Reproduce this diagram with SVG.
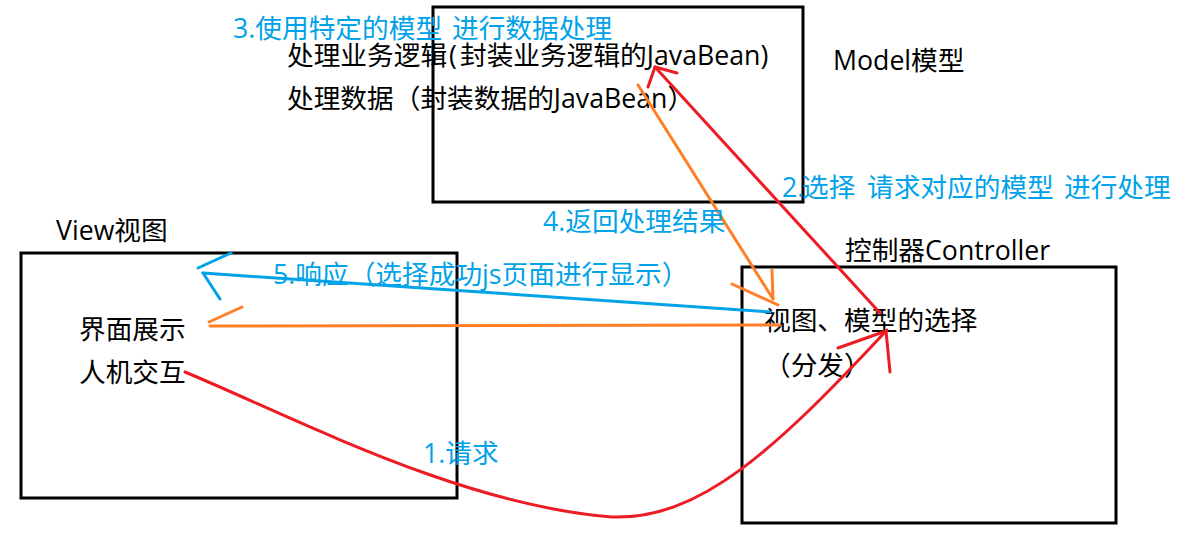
<svg xmlns="http://www.w3.org/2000/svg" width="1190" height="544" viewBox="0 0 1190 544">
<style>
.box{fill:none;stroke:#000;stroke-width:3}
.t{font-family:'Open Sans','Noto Sans CJK SC',sans-serif;font-size:26.7px;fill:#000}
.lb{font-family:'Open Sans','Noto Sans CJK SC',sans-serif;font-size:26.7px;fill:#00A2E8}
.ln{fill:none;stroke-width:3;stroke-linecap:round;stroke-linejoin:round}
.red{stroke:#ED1C24}
.org{stroke:#FF7F27}
.blu{stroke:#00A2E8}
</style>
<rect width="1190" height="544" fill="#fff"/>
<g id="view">
<rect class="box" x="21" y="253" width="436" height="245"/>
<text class="t" x="56" y="240">View视图</text>
<text class="t" x="79" y="339">界面展示</text>
<text class="t" x="79" y="382">人机交互</text>
</g>
<g id="model">
<rect class="box" x="433" y="7" width="370" height="195"/>
<text class="t" x="833" y="70">Model模型</text>
<text class="t" y="65"><tspan x="287">处理业务逻辑</tspan><tspan x="449">(</tspan><tspan x="460">封装业务逻辑的JavaBean)</tspan></text>
<text class="t" x="287" y="108">处理数据（封装数据的JavaBean）</text>
</g>
<g id="controller">
<rect class="box" x="742" y="267" width="374" height="256"/>
<text class="t" x="845" y="260">控制器Controller</text>
<text class="t" x="764" y="330">视图、模型的选择</text>
<text class="t" x="764" y="375">（分发）</text>
</g>
<g id="connectors">
<path class="ln red" d="M185,372 C300,420 460,505 612,517 C700,520 775,450 887,330"/>
<path class="ln red" d="M838,348 L886,331 L890,372"/>
<path class="ln red" d="M880,313 L655,67"/>
<path class="ln red" d="M677,73 L655,67 L648,87"/>
<path class="ln org" d="M638,85 L773,299"/>
<path class="ln org" d="M772,270 L773,299 M732,284 L778,305"/>
<path class="ln org" d="M210,326 L780,325"/>
<path class="ln org" d="M209,322 L242,307"/>
<path class="ln blu" d="M770,312 L203,273"/>
<path class="ln blu" d="M198,268 L231,253 M203,273 L220,299"/>
</g>
<g id="labels">
<text class="lb" y="463" x="423">1.请求</text>
<text class="lb" y="197"><tspan x="782">2.</tspan><tspan x="802">选择</tspan><tspan x="867">请求对应的模型</tspan><tspan x="1064">进行处理</tspan></text>
<text class="lb" y="38"><tspan x="233">3.使用特定的模型</tspan><tspan x="452">进行数据处理</tspan></text>
<text class="lb" x="543" y="231">4.返回处理结果</text>
<text class="lb" x="273" y="284">5.响应（选择成功js页面进行显示）</text>
</g>
</svg>
